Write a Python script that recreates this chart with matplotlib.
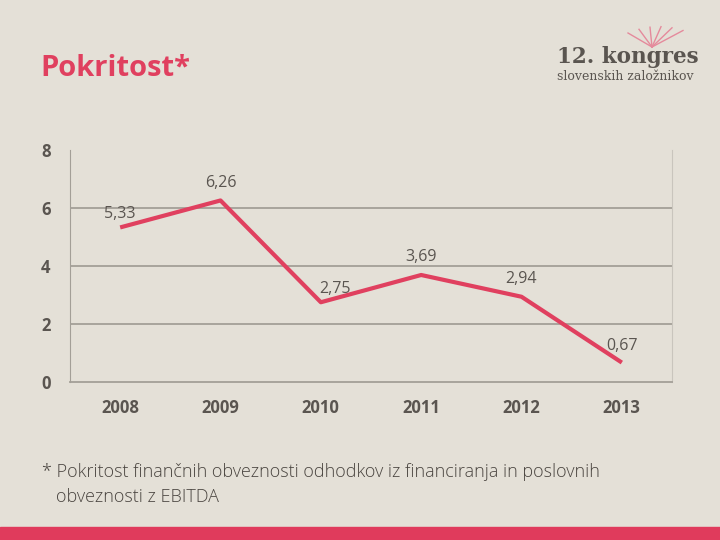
import matplotlib.pyplot as plt

# chart data
years = ['2008', '2009', '2010', '2011', '2012', '2013']
values = [5.33, 6.26, 2.75, 3.69, 2.94, 0.67]
labels = ['5,33', '6,26', '2,75', '3,69', '2,94', '0,67']
yticks = [0, 2, 4, 6, 8]

bg = '#e4e0d7'
red = '#e0405f'
grey = '#5a5550'

plt.rcParams['font.family'] = ['Open Sans', 'DejaVu Sans']

fig = plt.figure(figsize=(7.2, 5.4), dpi=100, facecolor=bg)
ax = fig.add_axes([70 / 720, 1 - 382 / 540, 602 / 720, 232 / 540], facecolor=bg)

x = list(range(len(years)))
ax.plot(x, values, color=red, linewidth=3, solid_capstyle='butt', zorder=3)

# data labels (offsets in points, relative to each point)
offsets = [(0, 4), (0, 7), (10, 4), (0, 7), (0, 7), (0, 6)]
for xi, v, lab, (dx, dy) in zip(x, values, labels, offsets):
    ax.annotate(lab, (xi, v), xytext=(dx, dy), textcoords='offset points',
                ha='center', va='bottom', fontsize=11.5, color=grey)

ax.set_xlim(-0.5, len(years) - 0.5)
ax.set_ylim(0, 8)
ax.set_yticks(yticks)
ax.set_yticklabels([str(t) for t in yticks])
ax.set_xticks(x)
ax.set_xticklabels(years)
ax.tick_params(length=0, labelsize=12, labelcolor=grey)
ax.tick_params(axis='x', pad=12)
ax.tick_params(axis='y', pad=14)
for t in ax.get_xticklabels() + ax.get_yticklabels():
    t.set_fontweight('bold')

for g in [2, 4, 6]:
    ax.axhline(g, color='#a39f97', linewidth=1.3, zorder=1)

ax.spines['top'].set_visible(False)
ax.spines['left'].set_color('#a39f97')
ax.spines['bottom'].set_color('#a39f97')
ax.spines['bottom'].set_linewidth(1.3)
ax.spines['right'].set_color('#c9c5bd')

# title
fig.text(40 / 720, 1 - 68 / 540, 'Pokritost*', color=red, fontsize=21,
         fontweight='bold', va='center', ha='left')

# logo text
fig.text(557 / 720, 1 - 57 / 540, '12. kongres', color=grey, fontsize=15.5,
         fontweight='bold', family='DejaVu Serif', va='center', ha='left')
fig.text(557 / 720, 1 - 76 / 540, 'slovenskih založnikov', color=grey, fontsize=9,
         family='DejaVu Serif', va='center', ha='left')
# small book fan above logo
for k in range(6):
    fig.lines.append(plt.Line2D([(652) / 720, (628 + k * 11) / 720],
                                [1 - 47 / 540, 1 - (28 - k * 0.5 + (k - 2.5) ** 2 * 0.8) / 540],
                                transform=fig.transFigure, color='#e58a9c', linewidth=1))

# footnote
fig.text(42 / 720, 1 - 472 / 540,
         '* Pokritost finančnih obveznosti odhodkov iz financiranja in poslovnih',
         color='#4a4540', fontsize=13, fontweight='light', va='center', ha='left')
fig.text(56 / 720, 1 - 497 / 540, 'obveznosti z EBITDA',
         color='#4a4540', fontsize=13, fontweight='light', va='center', ha='left')

# bottom bar
fig.patches.append(plt.Rectangle((0, 0), 1, 13 / 540, transform=fig.transFigure,
                                 color='#e03b5c', zorder=0))

fig.savefig('out.png', dpi=100, facecolor=bg)
